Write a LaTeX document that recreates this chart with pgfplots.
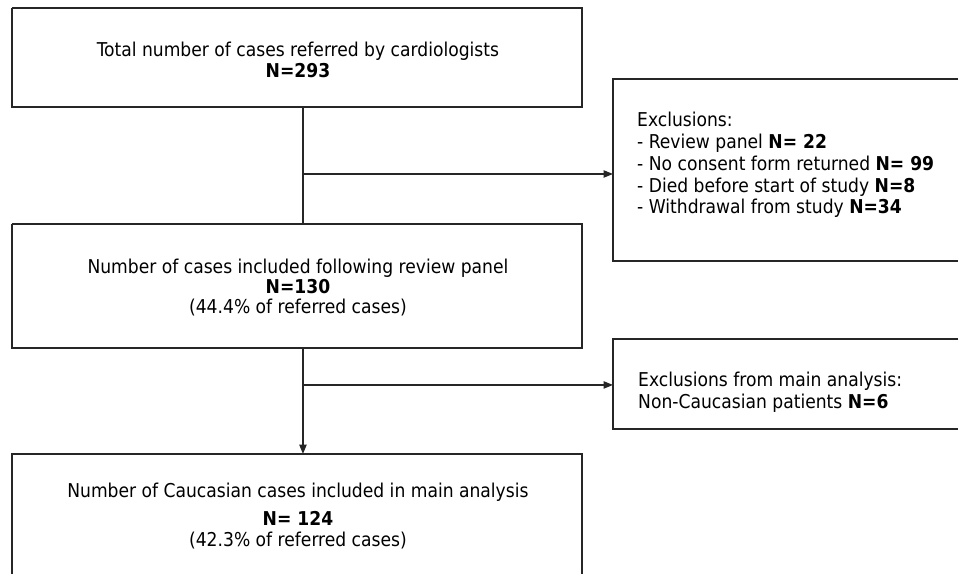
\documentclass[border=0pt]{standalone}
\usepackage{fontspec}
\setmainfont{DejaVu Sans Condensed}
\usepackage{pgfplots}
\pgfplotsset{compat=1.18}
\usetikzlibrary{arrows.meta}
\begin{document}
\begin{tikzpicture}
\begin{axis}[width=719.25pt,height=431.25pt,scale only axis,
  xmin=0,xmax=959,ymin=0,ymax=575,y dir=reverse,hide axis,clip=false,
  box/.style={black!85,line width=0.9pt,line join=miter,mark=none},
  arr/.style={box,-{Triangle[length=7pt,width=5.5pt]}},
  nodes={font=\fontsize{14.3}{16}\selectfont,inner sep=0pt}]
% invisible frame that fixes the picture's extent
\addplot[draw=none,mark=none] coordinates {(0,0)(959,575)};
% main boxes
\addplot[box] coordinates {(12,8)(582,8)(582,107)(12,107)(12,8)};
\addplot[box] coordinates {(12,224)(582,224)(582,348)(12,348)(12,224)};
\addplot[box] coordinates {(12,574.5)(12,454)(582,454)(582,574.5)};
% exclusion boxes (right edge outside the picture)
\addplot[box] coordinates {(958.5,79)(613,79)(613,261)(958.5,261)};
\addplot[box] coordinates {(958.5,339)(613,339)(613,429)(958.5,429)};
% connectors
\addplot[box] coordinates {(303,107)(303,224)};
\addplot[arr] coordinates {(303,174)(613,174)};
\addplot[arr] coordinates {(303,348)(303,454)};
\addplot[arr] coordinates {(303,385)(613,385)};
% texts
\node[anchor=base] at (axis cs:298,57) {Total number of cases referred by cardiologists};
\node[anchor=base] at (axis cs:298,78) {\bfseries N=293};
\node[anchor=base] at (axis cs:298,274) {Number of cases included following review panel};
\node[anchor=base] at (axis cs:298,294) {\bfseries N=130};
\node[anchor=base] at (axis cs:298,314) {(44.4\% of referred cases)};
\node[anchor=base] at (axis cs:298,498) {Number of Caucasian cases included in main analysis};
\node[anchor=base] at (axis cs:298,526) {\bfseries N= 124};
\node[anchor=base] at (axis cs:298,547) {(42.3\% of referred cases)};
\node[anchor=base west] at (axis cs:637,127) {Exclusions:};
\node[anchor=base west] at (axis cs:637,149) {- Review panel \textbf{N= 22}};
\node[anchor=base west] at (axis cs:637,171) {- No consent form returned \textbf{N= 99}};
\node[anchor=base west] at (axis cs:637,193) {- Died before start of study \textbf{N=8}};
\node[anchor=base west] at (axis cs:637,214) {- Withdrawal from study \textbf{N=34}};
\node[anchor=base west] at (axis cs:638,387) {Exclusions from main analysis:};
\node[anchor=base west] at (axis cs:638,409) {Non-Caucasian patients \textbf{N=6}};
\end{axis}
\end{tikzpicture}
\end{document}
